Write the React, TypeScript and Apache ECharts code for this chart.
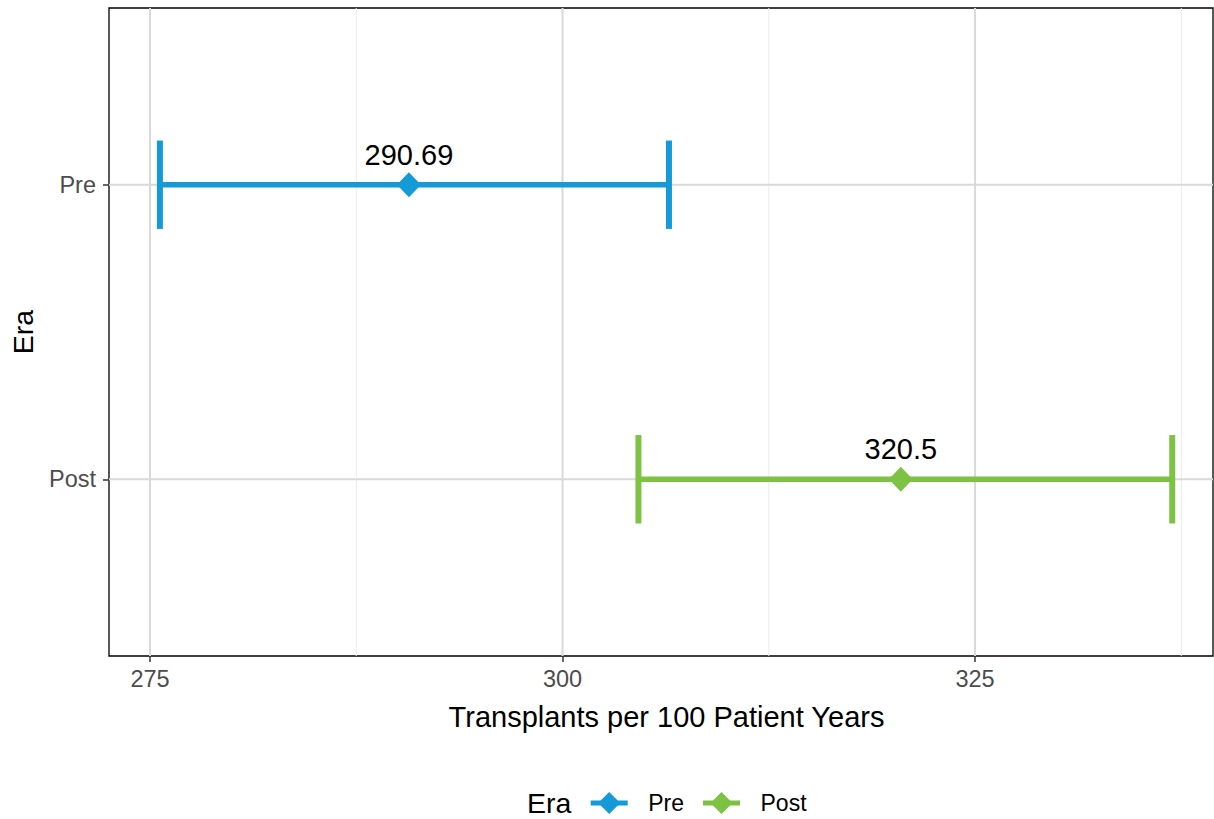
import React, { useEffect, useRef } from "react";
import * as echarts from "echarts";

const eras = ["Pre", "Post"];
const estimates = [290.69, 320.5];
const lowerCI = [275.6, 304.6];
const upperCI = [306.45, 336.95];
const eraColors = ["#149BD7", "#7DC242"];
const xMajorTicks = [275, 300, 325];
const xMinorTicks = [287.5, 312.5, 337.5];

const FONT = "Liberation Sans, Arial, Helvetica, sans-serif";

const yPos = (i: number) => eras.length - i;

export default function App() {
  const ref = useRef<HTMLDivElement>(null);
  useEffect(() => {
    if (!ref.current) return;
    const chart = echarts.init(ref.current, undefined, { renderer: "svg" });

    const vGrid = (values: number[], color: string, width: number, name: string) => ({
      type: "custom",
      name,
      silent: true,
      z: 1,
      encode: { x: 0, y: 1 },
      data: values.map((v) => [v, 1.5]),
      renderItem: (params: any, api: any) => {
        const cs = params.coordSys;
        const x = api.coord([api.value(0), 1.5])[0];
        return {
          type: "line",
          shape: { x1: x, y1: cs.y, x2: x, y2: cs.y + cs.height },
          style: { stroke: color, lineWidth: width },
        };
      },
    });

    const hGrid = {
      type: "custom",
      name: "hgrid",
      silent: true,
      z: 1,
      encode: { x: 0, y: 1 },
      data: eras.map((_, i) => [300, yPos(i)]),
      renderItem: (params: any, api: any) => {
        const cs = params.coordSys;
        const y = api.coord([300, api.value(1)])[1];
        return {
          type: "line",
          shape: { x1: cs.x, y1: y, x2: cs.x + cs.width, y2: y },
          style: { stroke: "#d9d9d9", lineWidth: 2 },
        };
      },
    };

    const errorSeries = eras.map((era, i) => ({
      type: "custom",
      name: era,
      z: 3,
      itemStyle: { color: eraColors[i] },
      encode: { x: [0, 1], y: 2 },
      data: [[lowerCI[i], upperCI[i], yPos(i)]],
      renderItem: (params: any, api: any) => {
        const lo = api.value(0);
        const hi = api.value(1);
        const y = api.value(2);
        const pL = api.coord([lo, y]);
        const pH = api.coord([hi, y]);
        const capTop = api.coord([lo, y + 0.15])[1];
        const capBot = api.coord([lo, y - 0.15])[1];
        const st = { stroke: eraColors[i], lineWidth: 5.5 };
        return {
          type: "group",
          children: [
            { type: "line", shape: { x1: pL[0], y1: pL[1], x2: pH[0], y2: pH[1] }, style: st },
            { type: "line", shape: { x1: pL[0], y1: capTop, x2: pL[0], y2: capBot }, style: { ...st, lineWidth: 6 } },
            { type: "line", shape: { x1: pH[0], y1: capTop, x2: pH[0], y2: capBot }, style: { ...st, lineWidth: 6 } },
          ],
        };
      },
    }));

    const pointSeries = eras.map((era, i) => ({
      type: "scatter",
      name: era,
      z: 4,
      symbol: "diamond",
      symbolSize: [24, 25],
      itemStyle: { color: eraColors[i], opacity: 1 },
      data: [[estimates[i], yPos(i)]],
      label: {
        show: true,
        position: "top",
        distance: 3,
        formatter: (p: any) => String(p.value[0]),
        fontSize: 29,
        color: "#000",
        fontFamily: FONT,
      },
    }));

    // legend drawn as graphic elements (line + diamond key, like ggplot)
    const legendStarts = [590.7, 703];
    const legendY = 803;
    const legendChildren: any[] = [
      {
        type: "text",
        x: 527,
        y: legendY,
        style: { text: "Era", fontSize: 28.5, fill: "#000", fontFamily: FONT, verticalAlign: "middle" },
      },
    ];
    eras.forEach((era, i) => {
      const x0 = legendStarts[i];
      legendChildren.push(
        { type: "rect", shape: { x: x0, y: legendY - 2.5, width: 37, height: 5 }, style: { fill: eraColors[i] } },
        {
          type: "polygon",
          shape: {
            points: [
              [x0 + 18.5, legendY - 11],
              [x0 + 29.5, legendY],
              [x0 + 18.5, legendY + 11],
              [x0 + 7.5, legendY],
            ],
          },
          style: { fill: eraColors[i] },
        },
        {
          type: "text",
          x: x0 + 57.5,
          y: legendY,
          style: { text: era, fontSize: 23, fill: "#000", fontFamily: FONT, verticalAlign: "middle" },
        }
      );
    });

    chart.setOption({
      animation: false,
      backgroundColor: "#fff",
      textStyle: { fontFamily: FONT },
      grid: {
        left: 109,
        top: 8,
        width: 1104,
        height: 648,
        show: true,
        borderColor: "#000",
        borderWidth: 1.3,
        backgroundColor: "transparent",
      },
      xAxis: {
        type: "value",
        min: 272.515,
        max: 339.42,
        name: "Transplants per 100 Patient Years",
        nameLocation: "middle",
        nameGap: 46,
        nameTextStyle: { fontSize: 29, color: "#000", fontFamily: FONT, padding: [0, 0, 0, 11] },
        axisLine: { show: false },
        splitLine: { show: false },
        axisTick: {
          show: true,
          customValues: xMajorTicks,
          length: 6,
          lineStyle: { color: "#333", width: 1.5 },
        },
        axisLabel: {
          customValues: xMajorTicks,
          fontSize: 23.5,
          color: "#4d4d4d",
          margin: 11,
          fontFamily: FONT,
        },
      },
      yAxis: {
        type: "value",
        min: 0.4,
        max: 2.6,
        name: "Era",
        nameLocation: "middle",
        nameGap: 72,
        nameRotate: 90,
        nameTextStyle: { fontSize: 28.5, color: "#000", fontFamily: FONT },
        axisLine: { show: false },
        splitLine: { show: false },
        axisTick: {
          show: true,
          customValues: eras.map((_, i) => yPos(i)),
          length: 6,
          lineStyle: { color: "#333", width: 1.5 },
        },
        axisLabel: {
          customValues: eras.map((_, i) => yPos(i)),
          formatter: (v: number) => eras[eras.length - Math.round(v)] ?? "",
          fontSize: 23.5,
          color: "#4d4d4d",
          margin: 13,
          fontFamily: FONT,
        },
      },
      graphic: [{ type: "group", children: legendChildren }],
      series: [
        vGrid(xMinorTicks, "#ebebeb", 1, "minor"),
        vGrid(xMajorTicks, "#d9d9d9", 2, "major"),
        hGrid,
        ...errorSeries,
        ...pointSeries,
      ],
    });
    return () => chart.dispose();
  }, []);
  return (
    <div
      ref={ref}
      style={{ position: "fixed", left: 0, top: 0, width: 1214, height: 819, background: "#fff" }}
    />
  );
}
